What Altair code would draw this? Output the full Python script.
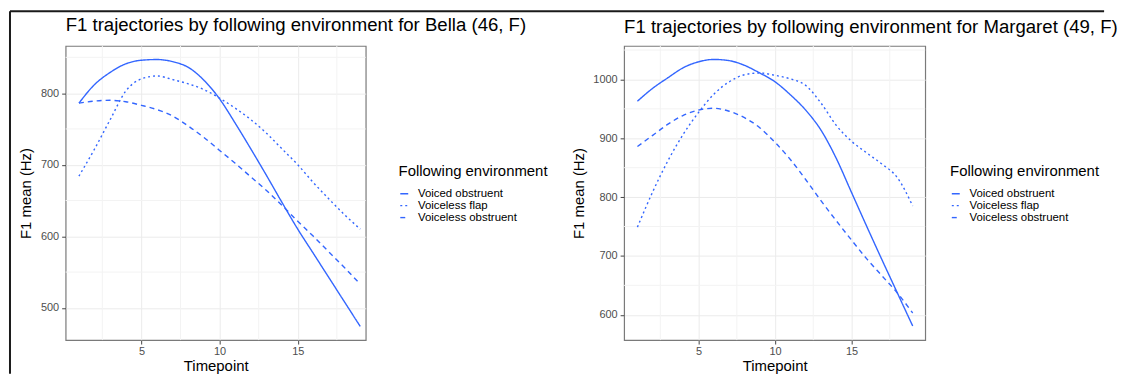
import altair as alt
import pandas as pd

BLUE = "#3366FF"
FONT = "Liberation Sans"

timepoints = list(range(1, 20))
environments = ["Voiced obstruent", "Voiceless flap", "Voiceless obstruent"]
dash_patterns = [[1, 0], [2, 3], [5, 4]]

x_ticks = [5, 10, 15]
x_minor = [2.5, 7.5, 12.5, 17.5]

# Bella (46, F)
bella_voiced = [786, 812, 829, 841, 846, 847, 844, 836, 818, 792, 758, 722, 685, 647, 610, 576, 542, 508, 474]
bella_flap = [684, 722, 763, 803, 820, 824, 819, 813, 805, 793, 779, 763, 744, 722, 700, 675, 652, 630, 610]
bella_vl_obs = [786, 789, 790, 788, 783, 777, 768, 754, 738, 720, 702, 683, 664, 643, 621, 600, 578, 556, 533]
bella_y_ticks = [500, 600, 700, 800]
bella_y_minor = [550, 650, 750, 850]

# Margaret (49, F)
margaret_voiced = [963, 985, 1003, 1020, 1030, 1034, 1032, 1024, 1011, 996, 974, 948, 914, 866, 808, 750, 693, 637, 581]
margaret_flap = [749, 809, 862, 907, 944, 975, 996, 1008, 1011, 1007, 1001, 990, 960, 922, 895, 875, 856, 833, 785]
margaret_vl_obs = [886, 905, 924, 939, 948, 951, 946, 935, 918, 893, 864, 830, 794, 760, 727, 695, 666, 637, 603]
margaret_y_ticks = [600, 700, 800, 900, 1000]
margaret_y_minor = [650, 750, 850, 950, 1050]


def build_df(series):
    rows = []
    for env, vals in zip(environments, series):
        for t, v in zip(timepoints, vals):
            rows.append({"Timepoint": t, "F1": v, "Environment": env})
    return pd.DataFrame(rows)


def panel(df, title, xdom, ydom, yticks, yminor, width, label_pad, title_pad,
          legend_x, frame=False):
    x_scale = alt.Scale(domain=xdom, nice=False, zero=False)
    y_scale = alt.Scale(domain=ydom, nice=False, zero=False)
    x_axis = alt.Axis(values=x_ticks, title="Timepoint", labelPadding=2, titlePadding=2)
    y_axis = alt.Axis(values=yticks, title="F1 mean (Hz)", format="d",
                      labelPadding=label_pad, titlePadding=title_pad)

    xgrid = alt.Chart(pd.DataFrame({"Timepoint": x_minor})).mark_rule(
        color="#f3f3f3", strokeWidth=1
    ).encode(x=alt.X("Timepoint:Q", scale=x_scale, axis=x_axis))
    ygrid = alt.Chart(pd.DataFrame({"F1": yminor})).mark_rule(
        color="#f3f3f3", strokeWidth=1
    ).encode(y=alt.Y("F1:Q", scale=y_scale, axis=y_axis))

    lines = alt.Chart(df).mark_line(
        color=BLUE, strokeWidth=1.4, interpolate="monotone"
    ).encode(
        x=alt.X("Timepoint:Q", scale=x_scale, axis=x_axis),
        y=alt.Y("F1:Q", scale=y_scale, axis=y_axis),
        strokeDash=alt.StrokeDash(
            "Environment:N",
            scale=alt.Scale(domain=environments, range=dash_patterns),
            legend=alt.Legend(title="Following environment", orient="none",
                              legendX=legend_x, legendY=119, rowPadding=-4.5,
                              symbolStrokeColor=BLUE),
        ),
    )

    layers = [xgrid, ygrid, lines]
    dy = 0
    if frame:
        one = pd.DataFrame({"a": [0]})
        top = alt.Chart(one).mark_rule(color="#1a1a1a", strokeWidth=2).encode(
            x=alt.value(-56), x2=alt.value(1045), y=alt.value(-35))
        left = alt.Chart(one).mark_rule(color="#1a1a1a", strokeWidth=2).encode(
            x=alt.value(-56), y=alt.value(-35), y2=alt.value(330))
        layers += [top, left]
        dy = 34

    return alt.layer(*layers).properties(
        width=width, height=296,
        title=alt.TitleParams(title, anchor="start", frame="group", fontSize=18.7,
                              fontWeight="normal", color="black", offset=9, dy=dy),
    )


left_chart = panel(build_df([bella_voiced, bella_flap, bella_vl_obs]),
                   "F1 trajectories by following environment for Bella (46, F)",
                   [0.15, 19.35], [455, 866], bella_y_ticks, bella_y_minor,
                   302, 3, 7, 335, frame=True)
right_chart = panel(build_df([margaret_voiced, margaret_flap, margaret_vl_obs]),
                    "F1 trajectories by following environment for Margaret (49, F)",
                    [0.13, 19.82], [557, 1057], margaret_y_ticks, margaret_y_minor,
                    303, 3, 6, 328)

chart = alt.hconcat(left_chart, right_chart, spacing=260, bounds="flush").resolve_scale(
    strokeDash="independent"
).resolve_legend(strokeDash="independent").properties(
    padding={"left": 0, "top": 0, "right": 0, "bottom": 0}
).configure(
    font=FONT, background="white"
).configure_view(
    stroke="#7a7a7a", strokeWidth=1.2
).configure_axis(
    grid=True, gridColor="#ebebeb", gridWidth=1, domain=False,
    tickColor="#444444", tickSize=4, tickWidth=1,
    labelFontSize=11, labelColor="#4d4d4d", labelFont=FONT,
    titleFontSize=15, titleFontWeight="normal", titleColor="black", titleFont=FONT,
).configure_legend(
    titleFontSize=15, titleFontWeight="normal", titleColor="black", titleFont=FONT,
    labelFontSize=11.5, labelColor="black", labelFont=FONT, labelOffset=8,
    symbolType="stroke", symbolSize=64, symbolStrokeWidth=1.4,
    titlePadding=9, padding=0,
)

chart.save("out.html", embed_options={"renderer": "svg", "actions": False})
